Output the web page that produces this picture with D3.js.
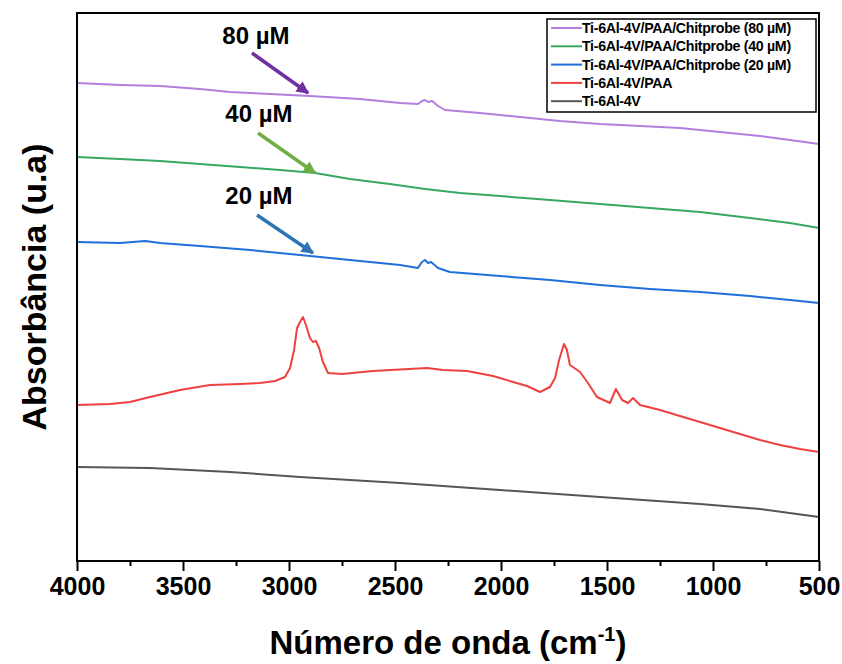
<!DOCTYPE html>
<html>
<head>
<meta charset="utf-8">
<script src="https://cdn.jsdelivr.net/npm/d3@7"></script>
<style>
  body { margin: 0; background: #fff; }
  svg { display: block; font-family: "Liberation Sans", Arial, sans-serif; }
</style>
</head>
<body>
<div id="chart"></div>
<script>
// spectra: [wavenumber (cm-1), absorbance (a.u., offset)]
const ti = [[4000,0.94],[3656,0.93],[3278,0.89],[2948,0.84],[2476,0.78],[2005,0.71],[1533,0.64],[1061,0.57],[778,0.52],[500,0.44]];
const paa = [[4000,1.56],[3844,1.57],[3750,1.59],[3656,1.64],[3514,1.71],[3373,1.76],[3231,1.77],[3137,1.78],[3066,1.80],[3019,1.84],
  [2995,1.93],[2976,2.11],[2962,2.33],[2948,2.39],[2934,2.44],[2920,2.36],[2901,2.23],[2887,2.19],[2873,2.20],[2858,2.13],[2840,1.99],
  [2816,1.88],[2750,1.87],[2604,1.90],[2349,1.93],[2274,1.91],[2160,1.90],[2038,1.85],[1943,1.79],[1877,1.75],[1816,1.69],[1769,1.74],
  [1745,1.83],[1726,2.01],[1703,2.17],[1689,2.11],[1675,1.96],[1627,1.89],[1590,1.78],[1547,1.64],[1486,1.58],[1458,1.72],[1429,1.61],
  [1401,1.58],[1377,1.63],[1344,1.56],[1250,1.51],[1156,1.45],[1061,1.39],[967,1.33],[873,1.27],[778,1.21],[684,1.16],[590,1.12],[500,1.09]];
const chit20 = [[4000,3.19],[3797,3.18],[3679,3.20],[3608,3.18],[3420,3.15],[3184,3.11],[2901,3.05],[2665,3.00],[2476,2.96],[2392,2.93],
  [2373,2.99],[2358,3.01],[2344,2.98],[2330,2.99],[2297,2.93],[2241,2.89],[2005,2.85],[1769,2.81],[1533,2.76],[1297,2.72],[1061,2.69],
  [825,2.65],[637,2.61],[500,2.58]];
const chit40 = [[4000,4.04],[3797,4.02],[3608,4.00],[3420,3.97],[3231,3.94],[3042,3.91],[2877,3.88],[2712,3.82],[2524,3.77],[2358,3.72],
  [2193,3.68],[2005,3.65],[1769,3.61],[1533,3.57],[1297,3.53],[1061,3.49],[825,3.43],[637,3.38],[500,3.33]];
const chit80 = [[4000,4.78],[3797,4.76],[3608,4.75],[3420,4.72],[3278,4.69],[3090,4.67],[2901,4.65],[2665,4.62],[2476,4.58],[2392,4.57],
  [2373,4.60],[2358,4.61],[2344,4.59],[2325,4.60],[2297,4.55],[2264,4.51],[2099,4.48],[1910,4.44],[1722,4.40],[1533,4.37],[1344,4.35],
  [1156,4.33],[967,4.29],[778,4.25],[637,4.21],[500,4.17]];

const seriesNames = ["Ti-6Al-4V/PAA/Chitprobe (80 µM)", "Ti-6Al-4V/PAA/Chitprobe (40 µM)", "Ti-6Al-4V/PAA/Chitprobe (20 µM)", "Ti-6Al-4V/PAA", "Ti-6Al-4V"];
const seriesData = [chit80, chit40, chit20, paa, ti];
const seriesColors = ["#b37ede", "#36a862", "#1f6fdd", "#ef4040", "#555555"];

// arrow annotations: label, label position, arrow start, arrow tip
const annLabels = ["80 µM", "40 µM", "20 µM"];
const annLabelPos = [[3156,5.25],[3142,4.47],[3142,3.65]];
const annStart = [[3175,5.08],[3146,4.28],[3151,3.46]];
const annTip = [[2910,4.68],[2877,3.88],[2887,3.08]];
const annColors = ["#7030a0", "#70ad47", "#2e75b6"];

const width = 842, height = 664;
const margin = {top: 13, right: 23, bottom: 103, left: 77};

const x = d3.scaleLinear().domain([4000, 500]).range([margin.left, width - margin.right]);
const y = d3.scaleLinear().domain([0, 5.48]).range([height - margin.bottom, margin.top]);

const svg = d3.select("#chart").append("svg")
    .attr("width", width)
    .attr("height", height);

const defs = svg.append("defs");
annColors.forEach((c, i) => {
  defs.append("marker")
      .attr("id", "head" + i)
      .attr("viewBox", "0 0 10 10")
      .attr("refX", 9).attr("refY", 5)
      .attr("markerWidth", 3.6).attr("markerHeight", 3.6)
      .attr("orient", "auto")
    .append("path")
      .attr("d", "M0,0 L10,5 L0,10 Z")
      .attr("fill", c);
});

const line = d3.line()
    .x(d => x(d[0]))
    .y(d => y(d[1]));

svg.append("g")
    .attr("fill", "none")
  .selectAll("path")
  .data(seriesData)
  .join("path")
    .attr("stroke", (d, i) => seriesColors[i])
    .attr("stroke-width", 2)
    .attr("stroke-linejoin", "round")
    .attr("d", line);

// x axis with major + minor ticks
const xMinor = d3.axisBottom(x).tickValues(d3.range(3750, 500, -500)).tickSize(5).tickFormat("");
svg.append("g")
    .attr("transform", `translate(0,${height - margin.bottom})`)
    .call(xMinor)
    .call(g => g.select(".domain").remove())
    .call(g => g.selectAll("line").attr("stroke-width", 2));

svg.append("g")
    .attr("transform", `translate(0,${height - margin.bottom})`)
    .call(d3.axisBottom(x).tickValues(d3.range(4000, 499, -500)).tickSize(10).tickPadding(6).tickFormat(d3.format("d")))
    .call(g => g.select(".domain").remove())
    .call(g => g.selectAll("line").attr("stroke-width", 2))
    .call(g => g.selectAll("text")
        .attr("font-family", "Liberation Sans, Arial, sans-serif")
        .attr("font-size", 25)
        .attr("font-weight", "bold")
        .attr("fill", "#000"));

// frame
svg.append("rect")
    .attr("x", margin.left)
    .attr("y", margin.top)
    .attr("width", width - margin.left - margin.right)
    .attr("height", height - margin.top - margin.bottom)
    .attr("fill", "none")
    .attr("stroke", "#000")
    .attr("stroke-width", 2);

// annotations
const ann = svg.append("g");
annLabels.forEach((t, i) => {
  ann.append("line")
      .attr("x1", x(annStart[i][0])).attr("y1", y(annStart[i][1]))
      .attr("x2", x(annTip[i][0])).attr("y2", y(annTip[i][1]))
      .attr("stroke", annColors[i])
      .attr("stroke-width", 3.5)
      .attr("marker-end", `url(#head${i})`);
  ann.append("text")
      .attr("x", x(annLabelPos[i][0]))
      .attr("y", y(annLabelPos[i][1]))
      .attr("dy", "0.35em")
      .attr("text-anchor", "middle")
      .attr("font-size", 24)
      .attr("font-weight", "bold")
      .text(t);
});

// legend
const legend = svg.append("g");
legend.append("rect")
    .attr("x", 547).attr("y", 19)
    .attr("width", 269).attr("height", 93)
    .attr("fill", "#fff")
    .attr("stroke", "#000")
    .attr("stroke-width", 1.5);
seriesNames.forEach((name, i) => {
  const yy = 28 + i * 18.3;
  legend.append("line")
      .attr("x1", 551).attr("x2", 582)
      .attr("y1", yy).attr("y2", yy)
      .attr("stroke", seriesColors[i])
      .attr("stroke-width", 2);
  legend.append("text")
      .attr("x", 582).attr("y", yy)
      .attr("dy", "0.35em")
      .attr("font-size", 14.2)
      .attr("font-weight", "bold")
      .attr("letter-spacing", -0.3)
      .text(name);
});

// axis titles
svg.append("text")
    .attr("x", (margin.left + width - margin.right) / 2)
    .attr("y", 654)
    .attr("text-anchor", "middle")
    .attr("font-size", 33)
    .attr("font-weight", "bold")
    .call(t => {
      t.append("tspan").text("Número de onda (cm");
      t.append("tspan").attr("font-size", 20).attr("dy", -13).text("-1");
      t.append("tspan").attr("dy", 13).text(")");
    });

svg.append("text")
    .attr("transform", `translate(46,${(margin.top + height - margin.bottom) / 2}) rotate(-90)`)
    .attr("text-anchor", "middle")
    .attr("font-size", 34)
    .attr("font-weight", "bold")
    .text("Absorbância (u.a)");
</script>
</body>
</html>
